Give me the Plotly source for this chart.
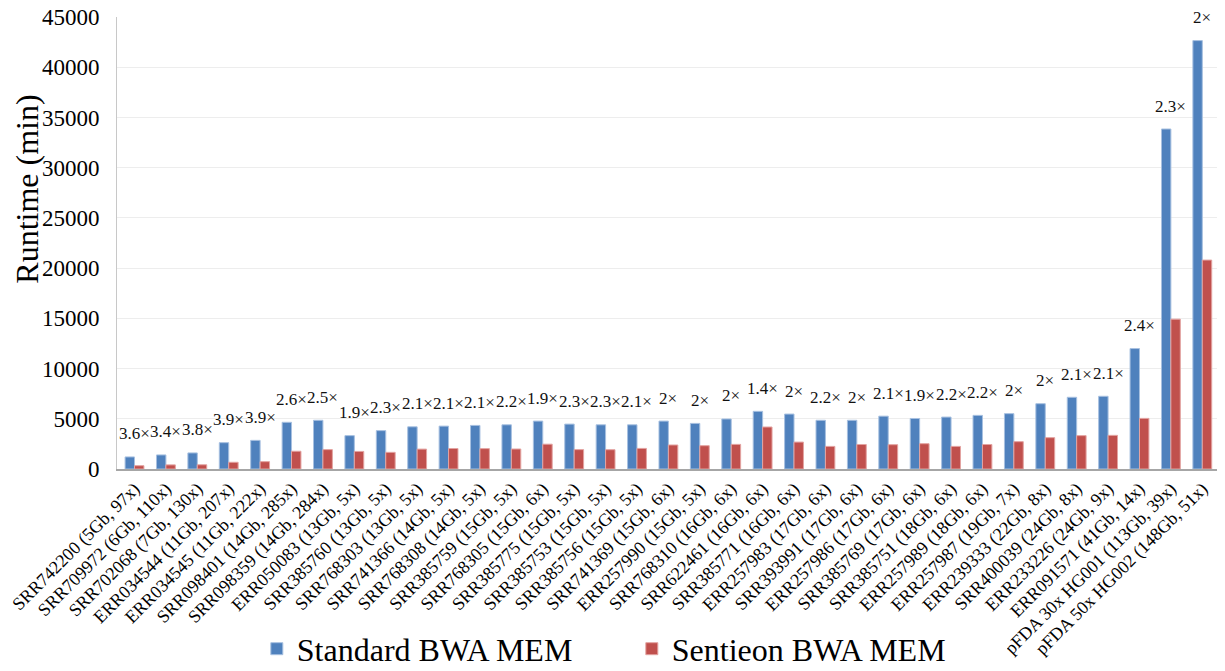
import plotly.graph_objects as go

categories = [
    "SRR742200 (5Gb, 97x)", "SRR709972 (6Gb, 110x)", "SRR702068 (7Gb, 130x)",
    "ERR034544 (11Gb, 207x)", "ERR034545 (11Gb, 222x)", "SRR098401 (14Gb, 285x)",
    "SRR098359 (14Gb, 284x)", "ERR050083 (13Gb, 5x)", "SRR385760 (13Gb, 5x)",
    "SRR768303 (13Gb, 5x)", "SRR741366 (14Gb, 5x)", "SRR768308 (14Gb, 5x)",
    "SRR385759 (15Gb, 5x)", "SRR768305 (15Gb, 6x)", "SRR385775 (15Gb, 5x)",
    "SRR385753 (15Gb, 5x)", "SRR385756 (15Gb, 5x)", "SRR741369 (15Gb, 6x)",
    "ERR257990 (15Gb, 5x)", "SRR768310 (16Gb, 6x)", "SRR622461 (16Gb, 6x)",
    "SRR385771 (16Gb, 6x)", "ERR257983 (17Gb, 6x)", "SRR393991 (17Gb, 6x)",
    "ERR257986 (17Gb, 6x)", "SRR385769 (17Gb, 6x)", "SRR385751 (18Gb, 6x)",
    "ERR257989 (18Gb, 6x)", "ERR257987 (19Gb, 7x)", "ERR239333 (22Gb, 8x)",
    "SRR400039 (24Gb, 8x)", "ERR233226 (24Gb, 9x)", "ERR091571 (41Gb, 14x)",
    "pFDA 30x HG001 (113Gb, 39x)", "pFDA 50x HG002 (148Gb, 51x)",
]

standard_bwa = [
    1200, 1400, 1600, 2620, 2850, 4650, 4850, 3320, 3820, 4200, 4270, 4340,
    4400, 4770, 4470, 4400, 4400, 4770, 4540, 4980, 5740, 5470, 4850, 4850,
    5260, 5030, 5170, 5340, 5510, 6500, 7140, 7240, 11990, 33850, 42650,
]

sentieon_bwa = [
    330, 410, 420, 670, 730, 1770, 1930, 1750, 1660, 1980, 2040, 2030,
    1990, 2470, 1930, 1920, 2050, 2390, 2320, 2450, 4180, 2680, 2250, 2440,
    2420, 2520, 2250, 2440, 2720, 3120, 3320, 3350, 5040, 14920, 20800,
]

speedups = [
    "3.6×", "3.4×", "3.8×", "3.9×", "3.9×", "2.6×", "2.5×", "1.9×", "2.3×",
    "2.1×", "2.1×", "2.1×", "2.2×", "1.9×", "2.3×", "2.3×", "2.1×", "2×",
    "2×", "2×", "1.4×", "2×", "2.2×", "2×", "2.1×", "1.9×", "2.2×", "2.2×",
    "2×", "2×", "2.1×", "2.1×", "2.4×", "2.3×", "2×",
]

y_ticks = [0, 5000, 10000, 15000, 20000, 25000, 30000, 35000, 40000, 45000]

FONT = "Liberation Serif, Times New Roman, serif"
BLUE = "#4F81BD"
RED = "#C0504D"

fig = go.Figure()
fig.add_trace(go.Bar(
    x=categories, y=standard_bwa, name="Standard BWA MEM",
    marker=dict(color=BLUE, line=dict(color="#A7C0E0", width=1)),
))
fig.add_trace(go.Bar(
    x=categories, y=sentieon_bwa, name="Sentieon BWA MEM",
    marker=dict(color=RED, line=dict(color="#E3A3A1", width=1)),
))

for cat, s, t, txt in zip(categories, standard_bwa, sentieon_bwa, speedups):
    fig.add_annotation(
        x=cat, y=max(s, t), text=txt, showarrow=False, yshift=23,
        font=dict(family=FONT, size=17, color="#111111"),
    )

# y-axis title (placed like the original, above the axis middle)
fig.add_annotation(
    xref="paper", yref="paper", x=-0.0818, y=0.62,
    text="Runtime (min)", textangle=-90, showarrow=False,
    xanchor="center", yanchor="middle",
    font=dict(family=FONT, size=32, color="black"),
)

fig.update_layout(
    width=1225, height=671,
    margin=dict(l=109, r=15, t=9, b=210, autoexpand=False),
    paper_bgcolor="white", plot_bgcolor="white",
    barmode="group", bargap=0.40, bargroupgap=0.0,
    font=dict(family=FONT, color="black"),
    showlegend=True,
    legend=dict(
        orientation="h", x=0.127, y=-0.398, xanchor="left", yanchor="middle",
        font=dict(family=FONT, size=32, color="black"),
        itemwidth=30, entrywidth=330, entrywidthmode="pixels",
    ),
)

fig.update_yaxes(
    range=[0, 45000], tickvals=y_ticks, ticktext=[str(v) for v in y_ticks],
    showgrid=True, gridcolor="#EDEDED", gridwidth=1,
    showline=True, linecolor="#C8C8C8", linewidth=1,
    ticks="", ticklabelstandoff=12, ticklabeloverflow="allow",
    tickfont=dict(family=FONT, size=23, color="black"),
    zeroline=False, automargin=False,
)
fig.update_xaxes(
    tickangle=-45, showline=True, linecolor="#A6A6A6", linewidth=2,
    ticks="", tickfont=dict(family=FONT, size=18, color="black"),
    showgrid=False, automargin=False, ticklabeloverflow="allow",
)

fig.write_html("out.html")
